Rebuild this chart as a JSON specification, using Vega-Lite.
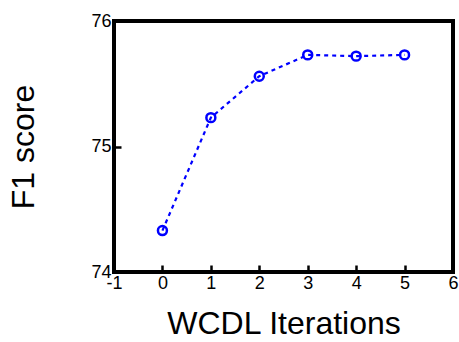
{
  "$schema": "https://vega.github.io/schema/vega-lite/v6.json",
  "width": 339,
  "height": 251,
  "autosize": {"type": "none"},
  "padding": {"left": 114, "top": 21, "right": 6, "bottom": 70},
  "background": "white",
  "view": {"stroke": "black", "strokeWidth": 4, "fill": null},
  "config": {
    "font": "Liberation Sans",
    "view": {"stroke": "black", "strokeWidth": 4},
    "axis": {
      "grid": false,
      "domain": false,
      "labelColor": "black",
      "labelFontSize": 18,
      "labelFont": "Liberation Sans",
      "titleFont": "Liberation Sans",
      "titleFontSize": 32,
      "titleFontWeight": "normal",
      "titleColor": "black"
    }
  },
  "data": {
    "values": [
      {"iter": 0, "f1": 74.33},
      {"iter": 1, "f1": 75.23},
      {"iter": 2, "f1": 75.56},
      {"iter": 3, "f1": 75.73},
      {"iter": 4, "f1": 75.72},
      {"iter": 5, "f1": 75.73}
    ]
  },
  "encoding": {
    "x": {
      "field": "iter",
      "type": "quantitative",
      "scale": {"domain": [-1, 6], "nice": false},
      "axis": {"values": [-1, 0, 1, 2, 3, 4, 5, 6], "labelExpr": "'' + datum.value", "title": "WCDL Iterations", "ticks": true, "tickSize": 7, "tickWidth": 2.5, "tickColor": "#000000", "tickOpacity": 1, "offset": -7, "zindex": 2, "labelPadding": 2, "titlePadding": 16, "labelFlush": false}
    },
    "y": {
      "field": "f1",
      "type": "quantitative",
      "scale": {"domain": [74, 76], "nice": false, "zero": false},
      "axis": {"values": [74, 75, 76], "labelExpr": "'' + datum.value", "title": "F1 score", "ticks": true, "tickSize": 7, "tickWidth": 2.5, "tickColor": "#000000", "tickOpacity": 1, "offset": -7, "zindex": 2, "labelPadding": 3, "titlePadding": 50, "labelFlush": false}
    }
  },
  "layer": [
    {
      "mark": {"type": "line", "color": "#0000ff", "strokeWidth": 2.2, "strokeDash": [4, 4]}
    },
    {
      "mark": {"type": "point", "shape": "circle", "filled": false, "color": "#0000ff", "strokeWidth": 2.5, "size": 80, "opacity": 1}
    }
  ]
}
